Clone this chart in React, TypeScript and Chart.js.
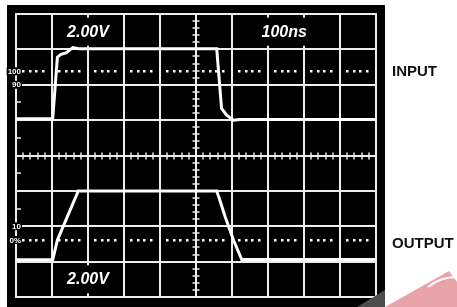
import React, { useEffect, useRef } from "react";
import { Chart, registerables } from "chart.js";

Chart.register(...registerables);

// Time axis in divisions (100ns/div), vertical axis in divisions (2.00V/div)
const inputX = [0, 1.02, 1.15, 1.25, 1.39, 1.58, 1.75, 5.575, 5.71, 5.85, 6.04, 6.22, 10];
const inputY = [5.04, 5.04, 6.78, 6.86, 6.9, 7.05, 7.02, 7.02, 5.33, 5.14, 5.0, 5.02, 5.02];

const outputX = [0, 1.02, 1.15, 1.73, 1.82, 5.575, 5.69, 5.81, 6.04, 6.27, 10];
const outputY = [1.05, 1.05, 1.61, 3.0, 3.0, 3.0, 2.65, 2.27, 1.61, 1.06, 1.06];

const xDivisions = 10;
const yDivisions = 8;
const dottedLevels = [6.38, 1.61];
const dotFractions = [0.2, 0.38, 0.56, 0.74];
const leftLabels = ["100", "90", "10", "0%"];
const leftLabelLevels = [6.38, 6.0, 2.0, 1.61];
const leftTickLevels = [5.5, 4.5, 3.5, 2.5];
const screenTexts = ["2.00V", "100ns", "2.00V"];
const screenTextX = [2.0, 7.45, 2.0];
const screenTextY = [7.5, 7.5, 0.5];
const sideLabels = ["INPUT", "OUTPUT"];
const sideLabelLevels = [6.38, 1.52];

const FONT = "'Liberation Sans', Arial, sans-serif";

const scopePlugin = {
  id: "scope",
  beforeDraw(chart: any) {
    const { ctx, chartArea: ca, height } = chart;
    ctx.save();
    ctx.fillStyle = "#000";
    ctx.fillRect(ca.left - 9, ca.top - 9, ca.right - ca.left + 18, height - (ca.top - 9));
    ctx.restore();
  },
  beforeDatasetsDraw(chart: any) {
    const { ctx, chartArea: ca } = chart;
    const xs = chart.scales.x;
    const ys = chart.scales.y;
    ctx.save();
    ctx.strokeStyle = "#ececec";
    ctx.lineWidth = 2;
    // major grid
    for (let i = 0; i <= xDivisions; i++) {
      const px = Math.round(xs.getPixelForValue(i));
      ctx.beginPath();
      ctx.moveTo(px, ca.top - 1);
      ctx.lineTo(px, ca.bottom + 1);
      ctx.stroke();
    }
    for (let j = 0; j <= yDivisions; j++) {
      const py = Math.round(ys.getPixelForValue(j));
      ctx.beginPath();
      ctx.moveTo(ca.left - 1, py);
      ctx.lineTo(ca.right + 1, py);
      ctx.stroke();
    }
    // minor ticks on center axes
    ctx.lineWidth = 1.5;
    const cx = Math.round(xs.getPixelForValue(xDivisions / 2));
    const cy = Math.round(ys.getPixelForValue(yDivisions / 2));
    for (let k = 0; k <= yDivisions * 5; k++) {
      const py = Math.round(ys.getPixelForValue(k / 5));
      ctx.beginPath();
      ctx.moveTo(cx - 3.5, py);
      ctx.lineTo(cx + 3.5, py);
      ctx.stroke();
    }
    for (let k = 0; k <= xDivisions * 5; k++) {
      const px = Math.round(xs.getPixelForValue(k / 5));
      ctx.beginPath();
      ctx.moveTo(px, cy - 3.5);
      ctx.lineTo(px, cy + 3.5);
      ctx.stroke();
    }
    // left border ticks
    ctx.lineWidth = 1.5;
    leftTickLevels.forEach((v) => {
      const py = Math.round(ys.getPixelForValue(v));
      ctx.beginPath();
      ctx.moveTo(ca.left, py);
      ctx.lineTo(ca.left + 5, py);
      ctx.stroke();
    });
    // dotted reference lines
    ctx.fillStyle = "#ffffff";
    dottedLevels.forEach((v) => {
      const py = Math.round(ys.getPixelForValue(v));
      for (let i = 0; i < xDivisions; i++) {
        dotFractions.forEach((f) => {
          const px = Math.round(xs.getPixelForValue(i + f));
          ctx.fillRect(px - 1, py - 1, 2.5, 2.5);
        });
      }
    });
    // screen annotations
    ctx.font = `italic bold 16px ${FONT}`;
    ctx.textAlign = "center";
    ctx.textBaseline = "middle";
    screenTexts.forEach((t, i) => {
      const px = xs.getPixelForValue(screenTextX[i]);
      const py = ys.getPixelForValue(screenTextY[i]);
      const w = ctx.measureText(t).width;
      ctx.fillStyle = "#000";
      ctx.fillRect(px - w / 2 - 6, py - 14, w + 12, 28);
      ctx.fillStyle = "#fff";
      ctx.fillText(t, px, py + 0.5);
    });
    // left percentage labels
    ctx.font = `bold 8px ${FONT}`;
    ctx.textAlign = "right";
    leftLabels.forEach((t, i) => {
      const py = ys.getPixelForValue(leftLabelLevels[i]);
      const w = ctx.measureText(t).width;
      const rx = ca.left + 5;
      ctx.fillStyle = "#000";
      ctx.fillRect(rx - w - 1, py - 4, w + 2, 8);
      ctx.fillStyle = "#fff";
      ctx.fillText(t, rx, py + 0.5);
    });
    ctx.restore();
  },
  afterDraw(chart: any) {
    const { ctx, chartArea: ca, width, height } = chart;
    const ys = chart.scales.y;
    ctx.save();
    // decorative corner
    const bx = ca.right + 9;
    ctx.fillStyle = "#4d4d4d";
    ctx.beginPath();
    ctx.moveTo(bx - 28, height);
    ctx.lineTo(bx, height - 17);
    ctx.lineTo(bx, height);
    ctx.closePath();
    ctx.fill();
    ctx.fillStyle = "#e9a4ab";
    ctx.beginPath();
    ctx.moveTo(bx, height);
    ctx.lineTo(width - 8, height - 36);
    ctx.lineTo(width, height - 25);
    ctx.lineTo(width, height);
    ctx.closePath();
    ctx.fill();
    ctx.strokeStyle = "#fff";
    ctx.lineWidth = 2;
    ctx.beginPath();
    ctx.moveTo(428, height - 20);
    ctx.quadraticCurveTo(440, height - 30, width, height - 30);
    ctx.stroke();
    // side labels
    ctx.fillStyle = "#111";
    ctx.font = `bold 15px ${FONT}`;
    ctx.textAlign = "left";
    ctx.textBaseline = "middle";
    sideLabels.forEach((t, i) => {
      ctx.fillText(t, ca.right + 16, ys.getPixelForValue(sideLabelLevels[i]) + 0.5);
    });
    ctx.restore();
  },
};

export default function App() {
  const ref = useRef<HTMLCanvasElement>(null);
  useEffect(() => {
    if (!ref.current) return;
    const chart = new Chart(ref.current, {
      type: "line",
      data: {
        datasets: [
          {
            label: "INPUT",
            data: inputX.map((x, i) => ({ x, y: inputY[i] })),
            borderColor: "#ffffff",
            borderWidth: 3,
            pointRadius: 0,
            tension: 0,
            fill: false,
          },
          {
            label: "OUTPUT",
            data: outputX.map((x, i) => ({ x, y: outputY[i] })),
            borderColor: "#ffffff",
            borderWidth: 3,
            pointRadius: 0,
            tension: 0,
            fill: false,
          },
        ],
      },
      options: {
        responsive: false,
        animation: false,
        devicePixelRatio: 1,
        layout: { padding: { left: 16, top: 14, right: 81, bottom: 10 } },
        plugins: { legend: { display: false }, tooltip: { enabled: false } },
        scales: {
          x: { type: "linear", min: 0, max: xDivisions, display: false },
          y: { type: "linear", min: 0, max: yDivisions, display: false },
        },
      },
      plugins: [scopePlugin],
    } as any);
    return () => chart.destroy();
  }, []);
  return (
    <canvas
      ref={ref}
      width={457}
      height={307}
      style={{ position: "fixed", left: 0, top: 0, width: 457, height: 307, display: "block" }}
    />
  );
}
